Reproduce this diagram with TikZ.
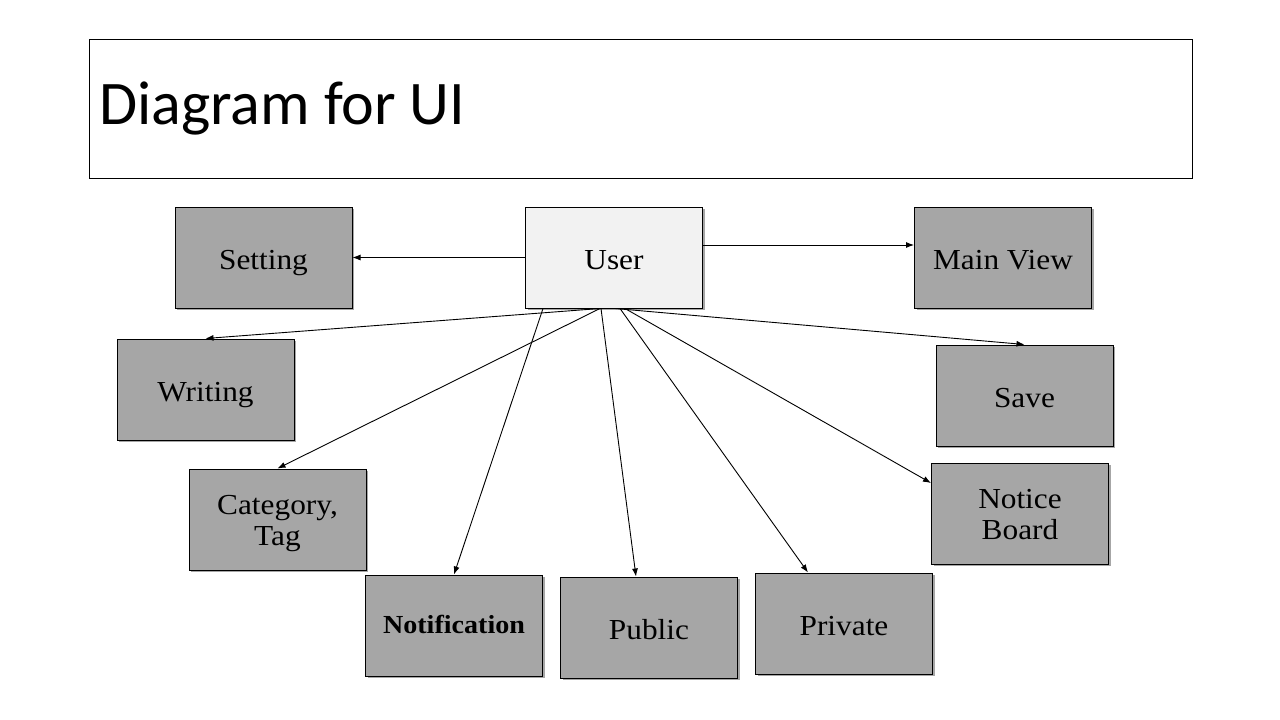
\documentclass[tikz,border=0pt]{standalone}
\usepackage{fontspec}
\setmainfont{Liberation Serif}[FakeStretch=1.08]
\newfontfamily\titlefont{Carlito}
\usetikzlibrary{shadows,arrows.meta}
\begin{document}
\begin{tikzpicture}[x=1pt,y=-1pt,
  box/.style={draw=black, line width=1pt, fill=boxgray, minimum width=177pt, minimum height=101pt, inner sep=0pt, align=center, font=\fontsize{29}{31}\selectfont, drop shadow={shadow xshift=2pt, shadow yshift=-2pt, opacity=0.35, fill=black}},
  oneline/.style={text height=24pt, text depth=0pt},
  conn/.style={draw=black, line width=0.9pt, -{Latex[length=8pt,width=6pt]}}]
\definecolor{boxgray}{HTML}{A6A6A6}
\definecolor{usergray}{HTML}{F2F2F2}
\useasboundingbox (0,0) rectangle (1280,720);
\fill[white] (0,0) rectangle (1280,720);
\node[draw=black, line width=1pt, minimum width=1103pt, minimum height=139pt, inner sep=0pt] (title) at (640.5,108.5) {};
\node[anchor=base west, inner sep=0pt, font=\titlefont\fontsize{62}{68}\selectfont] (titletext) at (99,124) {Diagram for UI};
\node[box, oneline, fill=usergray] (user) at (614,257.5) {User};
\node[box, oneline] (setting) at (263.5,257.5) {Setting};
\node[box, oneline] (mainview) at (1003,257.5) {Main View};
\node[box, oneline] (writing) at (205.5,389.5) {Writing};
\node[box, oneline] (save) at (1024.5,395.5) {Save};
\node[box] (category) at (277.5,519.5) {\rule{0pt}{28pt}Category,\\Tag};
\node[box] (notice) at (1020,513.5) {\rule{0pt}{22pt}Notice\\Board};
\node[box, text height=15pt, text depth=0pt, font=\bfseries\fontsize{26}{28}\selectfont] (notification) at (454,625.5) {Notification};
\node[box, oneline] (public) at (649,627.5) {Public};
\node[box, oneline] (private) at (844,623.5) {Private};
\draw[conn] ([yshift=0]user.west) -- (setting.east);
\draw[conn] ([yshift=12.5]user.east) -- ([yshift=12.5]mainview.west);
\draw[conn] ([xshift=-14]user.south) -- (writing.north);
\draw[conn] ([xshift=1]user.south) -- (save.north);
\draw[conn] ([xshift=-14]user.south) -- (category.north);
\draw[conn] ([xshift=-71]user.south) -- (notification.north);
\draw[conn] ([xshift=-13]user.south) -- ([xshift=-13]public.north);
\draw[conn] ([xshift=6]user.south) -- ([xshift=-36]private.north);
\draw[conn] ([xshift=11]user.south) -- ([yshift=30.5]notice.west);
\end{tikzpicture}
\end{document}
